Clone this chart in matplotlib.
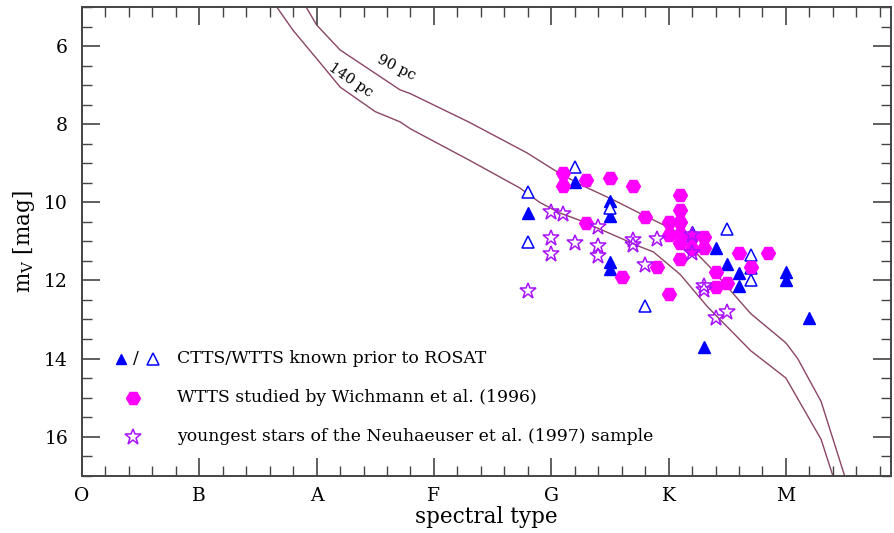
import matplotlib
matplotlib.use("Agg")
from matplotlib import pyplot as plt

plt.rcParams['font.family'] = ['DejaVu Serif']
plt.rcParams['mathtext.fontset'] = 'dejavuserif'

# spectral type as subclass index: O0=0, B0=10, A0=20, F0=30, G0=40, K0=50, M0=60
class_names = ["O", "B", "A", "F", "G", "K", "M"]
class_pos = [0, 10, 20, 30, 40, 50, 60]

# isochrone-like sequences at two distances
st_90 = [19.1, 20.0, 22.0, 25.0, 27.1, 28.0, 33.0, 37.9, 40.5, 42.5, 45.3, 48.0,
         50.4, 53.5, 57.0, 60.0, 61.0, 63.0, 65.0]
mv_90 = [5.0, 5.46, 6.1, 6.7, 7.12, 7.22, 7.95, 8.73, 9.22, 9.55, 9.94, 10.35,
         10.7, 11.65, 12.85, 13.6, 14.0, 15.1, 17.0]
st_140 = [16.6, 18.0, 20.3, 22.0, 25.0, 27.1, 28.0, 33.0, 37.3, 39.0, 40.7, 42.5,
          47.6, 48.7, 51.0, 53.3, 57.0, 60.0, 63.0, 64.0]
mv_140 = [5.0, 5.6, 6.43, 7.05, 7.68, 7.94, 8.12, 8.92, 9.63, 10.0, 10.27, 10.47,
          11.14, 11.27, 11.85, 12.67, 13.8, 14.5, 16.07, 17.0]

# CTTS known prior to ROSAT (filled triangles)
ctts_st = [38, 42, 45, 45, 45, 45, 52, 54, 55, 56, 56, 60, 60, 62, 53]
ctts_mv = [10.28, 9.48, 9.97, 10.34, 11.53, 11.72, 10.76, 11.16, 11.57, 11.8,
           12.14, 11.78, 11.98, 12.95, 13.7]

# WTTS known prior to ROSAT (open triangles)
wtts_st = [38, 38, 42, 45, 48, 51, 55, 57, 57, 57]
wtts_mv = [9.74, 11.02, 9.09, 10.14, 12.66, 10.37, 10.68, 11.34, 11.68, 11.98]

# WTTS studied by Wichmann et al. (1996)
wich_st = [41, 41, 43, 45, 47, 43, 46, 48, 49, 50, 51, 51, 50, 51, 50, 51, 51,
           52, 53, 52, 53, 51, 54, 54, 55, 56, 58.5, 57]
wich_mv = [9.25, 9.58, 9.42, 9.37, 9.59, 10.52, 11.92, 10.38, 11.65, 12.34,
           9.81, 10.19, 10.5, 10.5, 10.83, 10.81, 11.05, 10.88, 10.88, 11.2,
           11.16, 11.45, 11.79, 12.17, 12.07, 11.3, 11.3, 11.65]

# youngest stars of the Neuhaeuser et al. (1997) sample
neu_st = [40, 41, 44, 40, 42, 44, 44, 40, 38, 47, 47, 49, 48, 52, 52, 53, 53, 54, 55]
neu_mv = [10.24, 10.29, 10.63, 10.91, 11.04, 11.11, 11.37, 11.32, 12.26, 10.97,
          11.09, 10.93, 11.6, 10.83, 11.29, 12.14, 12.24, 12.97, 12.81]

blue = '#0000ff'
mag = '#ff00ff'
violet = '#a810ff'
curve_col = '#8b4566'

fig = plt.figure(figsize=(8.94, 5.33), dpi=100)
ax = fig.add_axes([0.0917, 0.1075, 0.9055, 0.8794])

ax.plot(st_90, mv_90, color=curve_col, lw=1.0, zorder=1)
ax.plot(st_140, mv_140, color=curve_col, lw=1.0, zorder=1)
ax.text(26.8, 6.56, "90 pc", rotation=-26, fontsize=10.5, ha='center', va='center')
ax.text(22.9, 6.87, "140 pc", rotation=-34, fontsize=10.5, ha='center', va='center')

ax.plot(ctts_st, ctts_mv, '^', color=blue, ms=8, ls='none', zorder=2)
ax.plot(wtts_st, wtts_mv, '^', mfc='white', mec=blue, mew=1.1, ms=8, ls='none', zorder=2)
ax.plot(wich_st, wich_mv, 'H', color=mag, ms=10, ls='none', zorder=3)
ax.plot(neu_st, neu_mv, '*', mfc='none', mec=violet, mew=1.1, ms=12, ls='none', zorder=4)

# legend drawn by hand like the original
ax.plot([3.3], [14.0], '^', color=blue, ms=7, clip_on=False)
ax.text(4.6, 14.0, "/", fontsize=12.5, ha='center', va='center')
ax.plot([6.05], [14.0], '^', mfc='white', mec=blue, mew=1.1, ms=8)
ax.plot([4.35], [15.0], 'H', color=mag, ms=10)
ax.plot([4.35], [16.0], '*', mfc='none', mec=violet, mew=1.1, ms=12)
ax.text(8.1, 14.0, "CTTS/WTTS known prior to ROSAT", fontsize=12.4, va='center')
ax.text(8.1, 15.0, "WTTS studied by Wichmann et al. (1996)", fontsize=12.4, va='center')
ax.text(8.1, 16.0, "youngest stars of the Neuhaeuser et al. (1997) sample",
        fontsize=12.4, va='center')

ax.set_xlim(0, 69)
ax.set_ylim(17, 5)
ax.set_xticks(class_pos)
ax.set_xticklabels(class_names)
ax.set_xticks(range(0, 70, 2), minor=True)
ax.set_yticks([6, 8, 10, 12, 14, 16])
ax.set_yticks([y / 2 for y in range(10, 35)], minor=True)
ax.tick_params(which='both', direction='in', top=True, right=True, colors='#444444',
               labelcolor='black', labelsize=13.5)
ax.tick_params(which='major', length=13, width=1.2)
ax.tick_params(which='minor', length=7, width=1.0)
ax.tick_params(axis='y', pad=10)
ax.tick_params(axis='x', pad=8)
for sp in ax.spines.values():
    sp.set_color('#444444')
    sp.set_linewidth(1.4)

ax.set_xlabel("spectral type", fontsize=15.5, labelpad=1)
ax.set_ylabel(r"m$_\mathrm{V}$ [mag]", fontsize=15.5, labelpad=5)

fig.savefig("out.png", dpi=100)
